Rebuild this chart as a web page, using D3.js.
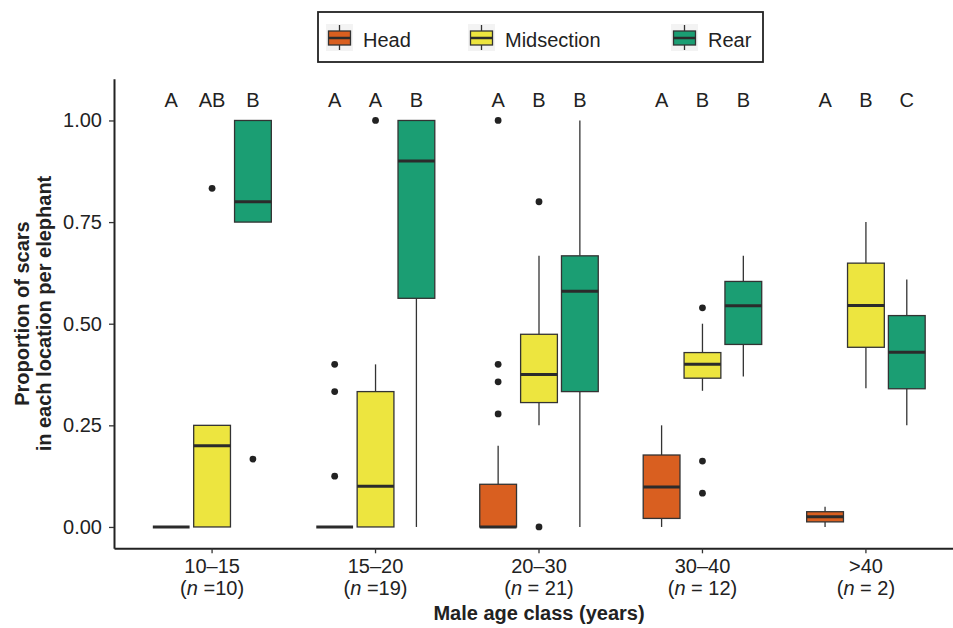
<!DOCTYPE html>
<html>
<head>
<meta charset="utf-8">
<script src="https://cdn.jsdelivr.net/npm/d3@7"></script>
<style>
    body { margin: 0; background: #fff; }
    text { font-family: "Liberation Sans", Arial, Helvetica, sans-serif; fill: #222; }
</style>
</head>
<body>
<div id="chartdiv"></div>
<script>
// global vars
let categories = ["10–15", "15–20", "20–30", "30–40", ">40"],
    nLabels = [" =10)", " =19)", " = 21)", " = 12)", " = 2)"],
    locations = ["Head", "Midsection", "Rear"],
    yTicks = [0, 0.25, 0.5, 0.75, 1];

// box stats per age class: [lower whisker, q1, median, q3, upper whisker]
let headStats = [
    [0, 0, 0, 0, 0],
    [0, 0, 0, 0, 0],
    [0, 0, 0, 0.105, 0.2],
    [0, 0.021, 0.098, 0.177, 0.25],
    [0, 0.0125, 0.025, 0.0375, 0.05]
];
let midStats = [
    [0, 0, 0.2, 0.25, 0.25],
    [0, 0, 0.1, 0.333, 0.4],
    [0.25, 0.306, 0.375, 0.474, 0.667],
    [0.335, 0.366, 0.4, 0.429, 0.5],
    [0.341, 0.442, 0.545, 0.649, 0.75]
];
let rearStats = [
    [0.75, 0.75, 0.8, 1, 1],
    [0, 0.5625, 0.9, 1, 1],
    [0, 0.333, 0.58, 0.667, 1],
    [0.37, 0.449, 0.544, 0.604, 0.667],
    [0.25, 0.34, 0.43, 0.52, 0.609]
];

// outliers per age class
let headOutliers = [[], [0.4, 0.333, 0.125], [1, 0.4, 0.357, 0.278], [], []];
let midOutliers = [[0.833], [1], [0.8, 0], [0.539, 0.162, 0.083], []];
let rearOutliers = [[0.167], [], [], [], []];

// significance letters per age class (head, midsection, rear)
let letters = [
    ["A", "AB", "B"],
    ["A", "A", "B"],
    ["A", "B", "B"],
    ["A", "B", "B"],
    ["A", "B", "C"]
];

let locColors = ["#d95f20", "#ede53f", "#1b9e73"];

// draw
{
    function drawBoxChart() {
        let width = 953,
            height = 628,
            panel = { left: 114, right: 964, top: 78.8, bottom: 548.3 },
            letter_y = 1.05;

        let statsByLoc = [headStats, midStats, rearStats],
            outByLoc = [headOutliers, midOutliers, rearOutliers];

        let boxData = [];
        for (let i = 0; i < categories.length; ++i) {
            for (let j = 0; j < locations.length; ++j) {
                boxData.push({
                    cat: categories[i],
                    loc: locations[j],
                    s: statsByLoc[j][i],
                    out: outByLoc[j][i],
                    letter: letters[i][j],
                    color: locColors[j]
                });
            }
        }

        // scales
        let x = d3.scaleBand()
            .domain(categories)
            .range([panel.left, panel.right])
            .paddingInner(0)
            .paddingOuter(0.1);
        let step = x.bandwidth();
        let xs = d3.scaleBand()
            .domain(locations)
            .range([-0.375 * step, 0.375 * step])
            .paddingInner(0.1)
            .paddingOuter(0.05);
        let y = d3.scaleLinear()
            .domain([-0.0525, 1.1025])
            .range([panel.bottom, panel.top]);
        let color = d3.scaleOrdinal()
            .domain(locations)
            .range(locColors);

        function cx(d) {
            return x(d.cat) + step / 2 + xs(d.loc) + xs.bandwidth() / 2;
        }

        let svg = d3.select("#chartdiv")
            .append("svg")
            .attr("width", width)
            .attr("height", height);
        svg.append("rect")
            .attr("width", width)
            .attr("height", height)
            .attr("fill", "#fff");

        // boxes
        let g = svg.selectAll(".box")
            .data(boxData)
            .enter()
            .append("g")
            .attr("class", "box");
        g.append("line")
            .attr("x1", cx).attr("x2", cx)
            .attr("y1", d => y(d.s[0]))
            .attr("y2", d => y(d.s[1]))
            .attr("stroke", "#333")
            .attr("stroke-width", 1.3);
        g.append("line")
            .attr("x1", cx).attr("x2", cx)
            .attr("y1", d => y(d.s[3]))
            .attr("y2", d => y(d.s[4]))
            .attr("stroke", "#333")
            .attr("stroke-width", 1.3);
        g.append("rect")
            .attr("x", d => cx(d) - xs.bandwidth() / 2)
            .attr("y", d => y(d.s[3]))
            .attr("width", xs.bandwidth())
            .attr("height", d => y(d.s[1]) - y(d.s[3]))
            .attr("fill", d => color(d.loc))
            .attr("stroke", "#333")
            .attr("stroke-width", 1.3);
        g.append("line")
            .attr("x1", d => cx(d) - xs.bandwidth() / 2)
            .attr("x2", d => cx(d) + xs.bandwidth() / 2)
            .attr("y1", d => y(d.s[2]))
            .attr("y2", d => y(d.s[2]))
            .attr("stroke", "#2b2b2b")
            .attr("stroke-width", 3);
        g.selectAll("circle")
            .data(d => d.out.map(v => ({ v: v, x: cx(d) })))
            .enter()
            .append("circle")
            .attr("cx", d => d.x)
            .attr("cy", d => y(d.v))
            .attr("r", 3.4)
            .attr("fill", "#222");

        // letters
        svg.selectAll(".letter")
            .data(boxData)
            .enter()
            .append("text")
            .attr("class", "letter")
            .attr("x", cx)
            .attr("y", y(letter_y))
            .attr("dy", "0.36em")
            .attr("text-anchor", "middle")
            .attr("font-size", 20)
            .text(d => d.letter);

        // axes
        let yAxis = d3.axisLeft(y)
            .tickValues(yTicks)
            .tickFormat(d3.format(".2f"))
            .tickSize(5)
            .tickSizeOuter(0)
            .tickPadding(7);
        let ya = svg.append("g")
            .attr("class", "axis")
            .attr("transform", "translate(" + panel.left + ",0)")
            .call(yAxis);
        ya.select(".domain").attr("stroke", "#222").attr("stroke-width", 2);
        ya.selectAll(".tick line").attr("stroke", "#333").attr("stroke-width", 1.3);
        ya.selectAll(".tick text")
            .attr("font-size", 20)
            .attr("font-family", null)
            .attr("fill", "#262626");

        let xAxis = d3.axisBottom(x)
            .tickSize(5)
            .tickSizeOuter(0)
            .tickPadding(6);
        let xa = svg.append("g")
            .attr("class", "axis")
            .attr("transform", "translate(0," + panel.bottom + ")")
            .call(xAxis);
        xa.select(".domain").attr("stroke", "#222").attr("stroke-width", 2);
        xa.selectAll(".tick line").attr("stroke", "#333").attr("stroke-width", 1.3);
        xa.selectAll(".tick text")
            .attr("font-size", 20)
            .attr("font-family", null)
            .attr("fill", "#262626")
            .each(function(d, i) {
                let t = d3.select(this);
                t.text(null);
                t.append("tspan").attr("x", 0).text(d);
                let t2 = t.append("tspan").attr("x", 0).attr("dy", "1.1em");
                t2.append("tspan").text("(");
                t2.append("tspan").attr("font-style", "italic").text("n");
                t2.append("tspan").text(nLabels[i]);
            });

        // axis titles
        svg.append("text")
            .attr("x", (panel.left + panel.right) / 2)
            .attr("y", 620)
            .attr("text-anchor", "middle")
            .attr("font-size", 20)
            .attr("font-weight", "bold")
            .text("Male age class (years)");
        let yt = svg.append("text")
            .attr("transform", "translate(29," + ((panel.top + panel.bottom) / 2) + ") rotate(-90)")
            .attr("text-anchor", "middle")
            .attr("font-size", 20)
            .attr("font-weight", "bold");
        yt.append("tspan").attr("x", 0).text("Proportion of scars");
        yt.append("tspan").attr("x", 0).attr("dy", 22).text("in each location per elephant");

        // legend
        {
            let legend_x = 318,
                legend_y = 12,
                key_offsets = [8, 150, 353],
                key_size = 27;
            svg.append("rect")
                .attr("x", legend_x)
                .attr("y", legend_y)
                .attr("width", 445)
                .attr("height", 50)
                .attr("fill", "#fff")
                .attr("stroke", "#222")
                .attr("stroke-width", 1.8);
            let items = svg.selectAll(".legendItem")
                .data(locations)
                .enter()
                .append("g")
                .attr("class", "legendItem")
                .attr("transform", (d, i) => "translate(" + (legend_x + key_offsets[i]) + "," + (legend_y + 12) + ")");
            items.append("rect")
                .attr("width", key_size)
                .attr("height", key_size)
                .attr("fill", "#f3f3f3");
            items.append("line")
                .attr("x1", key_size / 2).attr("x2", key_size / 2)
                .attr("y1", 1).attr("y2", key_size - 1)
                .attr("stroke", "#333")
                .attr("stroke-width", 1.3);
            items.append("rect")
                .attr("x", 2.5)
                .attr("y", 7)
                .attr("width", key_size - 5)
                .attr("height", 14)
                .attr("fill", d => color(d))
                .attr("stroke", "#333")
                .attr("stroke-width", 1.3);
            items.append("line")
                .attr("x1", 2.5).attr("x2", key_size - 2.5)
                .attr("y1", 14).attr("y2", 14)
                .attr("stroke", "#2b2b2b")
                .attr("stroke-width", 2.5);
            items.append("text")
                .attr("x", key_size + 10)
                .attr("y", 23)
                .attr("font-size", 20)
                .text(d => d);
        }
    }
}

// main
drawBoxChart();
</script>
</body>
</html>
